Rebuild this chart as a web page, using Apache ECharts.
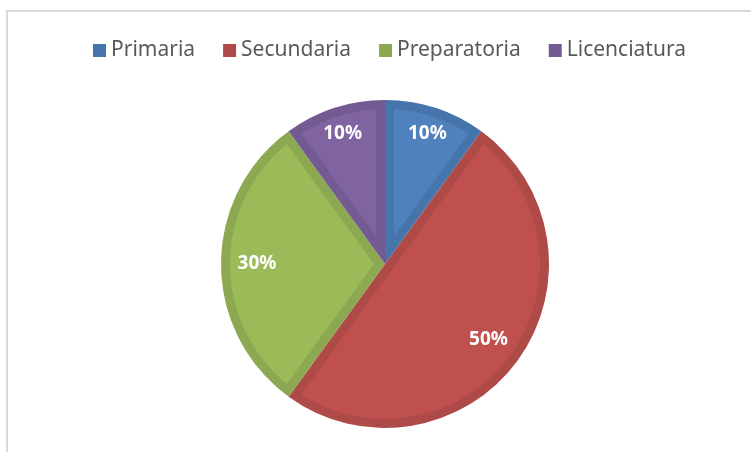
<!DOCTYPE html>
<html>
<head>
<meta charset="utf-8">
<script src="https://cdn.jsdelivr.net/npm/echarts@6/dist/echarts.min.js"></script>
<style>
  html, body { margin: 0; padding: 0; background: #fff; }
  #chart { width: 751px; height: 452px; }
</style>
</head>
<body>
<div id="chart"></div>
<script>
var categories = ['Primaria', 'Secundaria', 'Preparatoria', 'Licenciatura'];
var values = [10, 50, 30, 10];
var fillColors = ['#4F81BD', '#C0504D', '#9BBB59', '#8064A2'];
var edgeColors = ['#4675AC', '#AE4A47', '#8CA952', '#735A93'];

// pie geometry
var cx = 385, cy = 264, R = 164;
var edge = 9; // width of the darker inner border

var total = values.reduce(function (a, b) { return a + b; }, 0);
var cum = [0];
values.forEach(function (v, i) { cum.push(cum[i] + v); });

function pt(a, r) {
	return [cx + r * Math.sin(a), cy - r * Math.cos(a)];
}

// lighter inset part of each slice + percent label
function renderSlice(params, api) {
	var i = params.dataIndex;
	var a0 = cum[i] / total * Math.PI * 2;
	var a1 = cum[i + 1] / total * Math.PI * 2;
	var span = a1 - a0;
	var rho = R - edge;
	var d = Math.asin(edge / rho);
	var mid = (a0 + a1) / 2;
	var pts = [pt(mid, edge / Math.sin(span / 2))];
	var n = 80;
	for (var k = 0; k <= n; k++) {
		pts.push(pt(a0 + d + (span - 2 * d) * k / n, rho));
	}
	// narrow slices push the label further out
	var labelR = span < Math.PI / 3 ? R - 27 : R - 36;
	var lp = pt(mid, labelR);
	return {
		type: 'group',
		children: [{
			type: 'polygon',
			shape: { points: pts },
			style: { fill: fillColors[i] }
		}, {
			type: 'text',
			x: lp[0],
			y: lp[1],
			style: {
				text: Math.round(values[i] / total * 100) + '%',
				fill: '#ffffff',
				font: 'bold 19px "Noto Sans", sans-serif',
				align: 'center',
				verticalAlign: 'middle',
				textAlign: 'center',
				textVerticalAlign: 'middle'
			}
		}]
	};
}

var option = {
	animation: false,
	backgroundColor: '#ffffff',
	graphic: [{
		type: 'rect',
		shape: { x: 7, y: 11, width: 800, height: 500 },
		style: { fill: 'none', stroke: '#D9D9D9', lineWidth: 2 },
		silent: true
	}],
	legend: {
		data: categories,
		left: 93,
		top: 40,
		padding: 0,
		icon: 'rect',
		itemWidth: 13,
		itemHeight: 13,
		itemGap: 28,
		textStyle: {
			fontFamily: 'Noto Sans',
			fontSize: 21,
			color: '#595959'
		}
	},
	series: [{
		name: 'Nivel',
		type: 'pie',
		center: [cx, cy],
		radius: R,
		startAngle: 90,
		clockwise: true,
		silent: true,
		label: { show: false },
		labelLine: { show: false },
		data: categories.map(function (c, i) {
			return { name: c, value: values[i], itemStyle: { color: edgeColors[i] } };
		})
	}, {
		name: 'inner',
		type: 'custom',
		coordinateSystem: 'none',
		silent: true,
		z: 3,
		renderItem: renderSlice,
		data: values
	}]
};

var myChart = echarts.init(document.getElementById('chart'));
myChart.setOption(option);
</script>
</body>
</html>
